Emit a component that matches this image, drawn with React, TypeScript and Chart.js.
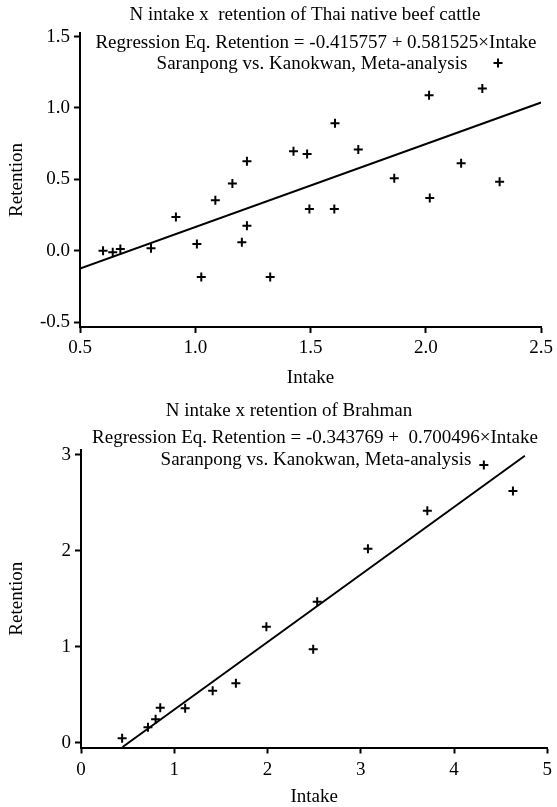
import React, { useEffect, useRef } from "react";
import { Chart, registerables } from "chart.js";
Chart.register(...registerables);

// ---------- Data: Thai native beef cattle ----------
const thaiIntake = [0.600, 0.642, 0.675, 0.808, 0.916, 1.007, 1.026, 1.087, 1.161, 1.202, 1.224, 1.224, 1.325, 1.426, 1.485, 1.495, 1.606, 1.603, 1.707, 1.863, 2.014, 2.017, 2.153, 2.245, 2.320, 2.313];
const thaiRetention = [0.0, -0.012, 0.012, 0.016, 0.236, 0.047, -0.185, 0.353, 0.470, 0.058, 0.626, 0.175, -0.185, 0.696, 0.678, 0.292, 0.893, 0.292, 0.708, 0.507, 1.089, 0.369, 0.612, 1.136, 0.482, 1.315];
const thaiFitX = [0.5, 2.5];
const thaiFitY = [-0.125, 1.038];
const thaiXTicks = [0.5, 1.0, 1.5, 2.0, 2.5];
const thaiYTicks = [-0.5, 0.0, 0.5, 1.0, 1.5];
const thaiTitle = "N intake x  retention of Thai native beef cattle";
const thaiEq = "Regression Eq. Retention = -0.415757 + 0.581525×Intake";
const thaiSource = "Saranpong vs. Kanokwan, Meta-analysis";

// ---------- Data: Brahman ----------
const brahmanIntake = [0.441, 0.718, 0.800, 0.850, 1.117, 1.412, 1.661, 1.988, 2.490, 2.533, 3.077, 3.714, 4.320, 4.632];
const brahmanRetention = [0.046, 0.160, 0.244, 0.365, 0.358, 0.542, 0.619, 1.208, 0.973, 1.469, 2.021, 2.417, 2.893, 2.622];
const brahmanFitX = [0.446, 4.76];
const brahmanFitY = [-0.045, 2.99];
const brahmanXTicks = [0, 1, 2, 3, 4, 5];
const brahmanYTicks = [0, 1, 2, 3];
const brahmanTitle = "N intake x retention of Brahman";
const brahmanEq = "Regression Eq. Retention = -0.343769 +  0.700496×Intake";
const brahmanSource = "Saranpong vs. Kanokwan, Meta-analysis";

const xTitle = "Intake";
const yTitle = "Retention";

const FONT = '"Liberation Serif", "Times New Roman", serif';

const overlayText = {
  id: "overlayText",
  afterDraw(chart: any, _args: any, opts: any) {
    const ctx = chart.ctx;
    ctx.save();
    ctx.fillStyle = "#000";
    ctx.font = `19px ${FONT}`;
    ctx.textAlign = "center";
    ctx.textBaseline = "middle";
    for (const t of opts.lines || []) ctx.fillText(t.text, t.x, t.y);
    ctx.restore();
  },
};

type PanelCfg = {
  width: number;
  height: number;
  xs: number[];
  ys: number[];
  fitX: number[];
  fitY: number[];
  xTicks: number[];
  yTicks: number[];
  decimals: number;
  xMin: number;
  xMax: number;
  yMin: number;
  yMax: number;
  padTop: number;
  padRight: number;
  yAxisWidth: number;
  xAxisHeight: number;
  xTickPad: number;
  xTitlePadBottom: number;
  yTitlePadTop: number;
  lines: { text: string; x: number; y: number }[];
};

function Panel({ cfg, top }: { cfg: PanelCfg; top: number }) {
  const ref = useRef<HTMLCanvasElement | null>(null);
  useEffect(() => {
    if (!ref.current) return;
    const fmt = (v: number) => (cfg.decimals > 0 ? v.toFixed(cfg.decimals) : String(v));
    const chart = new Chart(ref.current, {
      type: "scatter",
      data: {
        datasets: [
          {
            type: "scatter",
            data: cfg.xs.map((x, i) => ({ x, y: cfg.ys[i] })),
            pointStyle: "cross",
            pointRadius: 4.5,
            pointBorderWidth: 2,
            borderColor: "#000",
            backgroundColor: "#000",
          } as any,
          {
            type: "line",
            data: cfg.fitX.map((x, i) => ({ x, y: cfg.fitY[i] })),
            borderColor: "#000",
            borderWidth: 2,
            pointRadius: 0,
            showLine: true,
            fill: false,
          } as any,
        ],
      },
      options: {
        responsive: false,
        animation: false,
        devicePixelRatio: 1,
        layout: { padding: { top: cfg.padTop, right: cfg.padRight, left: 0, bottom: 0 } },
        plugins: {
          legend: { display: false },
          tooltip: { enabled: false },
          title: { display: false },
          overlayText: { lines: cfg.lines },
        } as any,
        scales: {
          x: {
            type: "linear",
            min: cfg.xMin,
            max: cfg.xMax,
            afterBuildTicks: (s: any) => {
              s.ticks = cfg.xTicks.map((v) => ({ value: v }));
            },
            afterFit: (s: any) => {
              s.height = cfg.xAxisHeight;
            },
            grid: {
              display: true,
              drawOnChartArea: false,
              drawTicks: true,
              tickLength: 6,
              tickWidth: 2,
              tickColor: "#000",
            },
            border: { display: true, color: "#000", width: 2 },
            ticks: {
              color: "#000",
              padding: cfg.xTickPad,
              maxRotation: 0,
              autoSkip: false,
              font: { family: FONT, size: 19 },
              callback: (v: any) => fmt(Number(v)),
            },
            title: {
              display: true,
              text: xTitle,
              color: "#000",
              font: { family: FONT, size: 19, lineHeight: 1 },
              padding: { top: 0, bottom: cfg.xTitlePadBottom },
            },
          },
          y: {
            type: "linear",
            min: cfg.yMin,
            max: cfg.yMax,
            afterBuildTicks: (s: any) => {
              s.ticks = cfg.yTicks.map((v) => ({ value: v }));
            },
            afterFit: (s: any) => {
              s.width = cfg.yAxisWidth;
            },
            grid: {
              display: true,
              drawOnChartArea: false,
              drawTicks: true,
              tickLength: 6,
              tickWidth: 2,
              tickColor: "#000",
            },
            border: { display: true, color: "#000", width: 2 },
            ticks: {
              color: "#000",
              padding: 4,
              autoSkip: false,
              font: { family: FONT, size: 19 },
              callback: (v: any) => fmt(Number(v)),
            },
            title: {
              display: true,
              text: yTitle,
              color: "#000",
              font: { family: FONT, size: 19, lineHeight: 1 },
              padding: { top: cfg.yTitlePadTop, bottom: 0 },
            },
          },
        },
      },
      plugins: [overlayText as any],
    });
    return () => chart.destroy();
  }, [cfg]);
  return (
    <canvas
      ref={ref}
      width={cfg.width}
      height={cfg.height}
      style={{ position: "absolute", left: 0, top, width: cfg.width, height: cfg.height, display: "block" }}
    />
  );
}

const thaiCfg: PanelCfg = {
  width: 557,
  height: 400,
  xs: thaiIntake,
  ys: thaiRetention,
  fitX: thaiFitX,
  fitY: thaiFitY,
  xTicks: thaiXTicks,
  yTicks: thaiYTicks,
  decimals: 1,
  xMin: 0.5,
  xMax: 2.5,
  yMin: -0.535,
  yMax: 1.525,
  padTop: 33,
  padRight: 15,
  yAxisWidth: 80,
  xAxisHeight: 73,
  xTickPad: 4,
  xTitlePadBottom: 12,
  yTitlePadTop: 8,
  lines: [
    { text: thaiTitle, x: 305, y: 15 },
    { text: thaiEq, x: 316, y: 43 },
    { text: thaiSource, x: 312, y: 64 },
  ],
};

const brahmanCfg: PanelCfg = {
  width: 557,
  height: 407,
  xs: brahmanIntake,
  ys: brahmanRetention,
  fitX: brahmanFitX,
  fitY: brahmanFitY,
  xTicks: brahmanXTicks,
  yTicks: brahmanYTicks,
  decimals: 0,
  xMin: 0,
  xMax: 5,
  yMin: -0.05,
  yMax: 3.05,
  padTop: 50,
  padRight: 8,
  yAxisWidth: 81,
  xAxisHeight: 59.5,
  xTickPad: 5,
  xTitlePadBottom: 0,
  yTitlePadTop: 8,
  lines: [
    { text: brahmanTitle, x: 289, y: 11 },
    { text: brahmanEq, x: 315, y: 38 },
    { text: brahmanSource, x: 316, y: 60 },
  ],
};

export default function App() {
  return (
    <div
      style={{
        position: "absolute",
        left: 0,
        top: 0,
        width: 557,
        height: 807,
        overflow: "hidden",
        background: "#fff",
      }}
    >
      <Panel cfg={thaiCfg} top={0} />
      <Panel cfg={brahmanCfg} top={400} />
    </div>
  );
}
